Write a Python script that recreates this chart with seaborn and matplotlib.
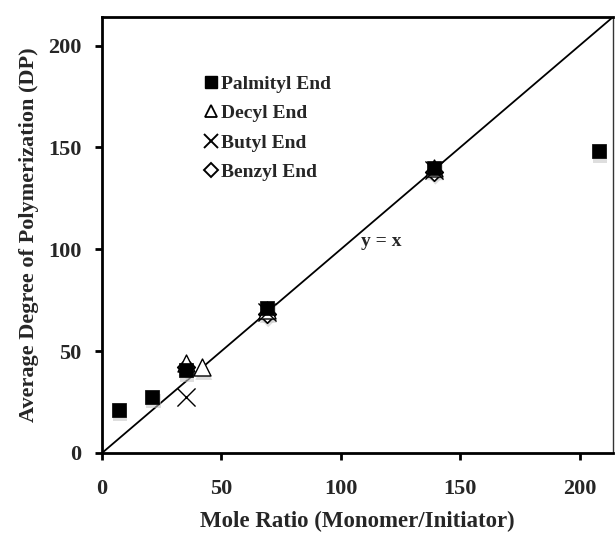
import matplotlib
matplotlib.use("Agg")
import matplotlib.pyplot as plt
import matplotlib.transforms as mtransforms
from matplotlib.lines import Line2D
import seaborn as sns
import pandas as pd
import numpy as np

# data
palmityl_x = [7, 21, 35, 69, 139, 208]
palmityl_y = [21, 27.5, 40.5, 71, 140, 148]
decyl_x = [35, 42, 69, 139]
decyl_y = [44, 42, 70, 140]
butyl_x = [35, 69, 139]
butyl_y = [27.5, 69, 139]
benzyl_x = [35, 69, 139]
benzyl_y = [42, 68, 138]

series = ["Palmityl End", "Decyl End", "Butyl End", "Benzyl End"]
xticks = [0, 50, 100, 150, 200]
yticks = [0, 50, 100, 150, 200]
axis_max = 214

sns.set_theme(style="white")
plt.rcParams['font.family'] = ['Liberation Serif', 'DejaVu Serif']
plt.rcParams['font.weight'] = 'bold'

fig = plt.figure(figsize=(6.15, 5.36), dpi=100)
ax = fig.add_axes([102/615, 83/536, 511/615, 436/536])

# y = x reference line
line_x = [0, axis_max]
ax.plot(line_x, line_x, color="black", lw=1.3, zorder=1)

def frame(xs, ys, name):
    return pd.DataFrame({"x": xs, "y": ys, "s": name})

df_benzyl = frame(benzyl_x, benzyl_y, series[3])
df_decyl = frame(decyl_x, decyl_y, series[1])
df_butyl = frame(butyl_x, butyl_y, series[2])
df_palm = frame(palmityl_x, palmityl_y, series[0])

shadow = mtransforms.offset_copy(ax.transData, fig=fig, x=1.5, y=-4, units='dots')

specs = [
    (df_benzyl, dict(marker="D", s=80, facecolor="white", edgecolor="black", linewidth=1.2)),
    (df_decyl, dict(marker="^", s=150, facecolor="white", edgecolor="black", linewidth=1.0)),
    (df_butyl, dict(marker="x", s=170, color="black", linewidth=1.0)),
    (df_palm, dict(marker="s", s=110, color="black", edgecolor="black", linewidth=0.5)),
]

for d, kw in specs:
    if d is not df_butyl:
        sns.scatterplot(data=d, x="x", y="y", ax=ax, color="#c4c4c4", edgecolor="none",
                        alpha=0.55, legend=False, zorder=2, marker=kw["marker"], s=kw["s"],
                        transform=shadow)
for i, (d, kw) in enumerate(specs):
    sns.scatterplot(data=d, x="x", y="y", ax=ax, legend=False, zorder=3 + i, **kw)

ax.set_xlim(0, axis_max)
ax.set_ylim(0, axis_max)
ax.set_xticks(xticks)
ax.set_yticks(yticks)
ax.set_xticklabels([str(t) for t in xticks], fontsize=16, fontweight="bold")
ax.set_yticklabels([str(t) for t in yticks], fontsize=16, fontweight="bold")
ax.tick_params(axis="both", direction="out", length=5, width=2, color="black",
               bottom=True, left=True)
ax.tick_params(axis="x", pad=14)
ax.tick_params(axis="y", pad=10)

ax.set_xlabel("Mole Ratio (Monomer/Initiator)", fontsize=16.5, fontweight="bold", labelpad=8)
ax.set_ylabel("Average Degree of Polymerization (DP)", fontsize=16, fontweight="bold", labelpad=6)

for side in ["left", "bottom", "top"]:
    ax.spines[side].set_linewidth(2)
    ax.spines[side].set_color("black")
ax.spines["right"].set_linewidth(1)
ax.spines["right"].set_color("#333333")

ax.text(117, 104, "y = x", fontsize=14, fontweight="bold", ha="center", va="center")

handles = [
    Line2D([], [], ls="none", marker="s", markersize=8.5, color="black"),
    Line2D([], [], ls="none", marker="^", markersize=8.5, markerfacecolor="white", markeredgecolor="black", markeredgewidth=1.3),
    Line2D([], [], ls="none", marker="x", markersize=9.5, color="black", markeredgewidth=1.4),
    Line2D([], [], ls="none", marker="D", markersize=7, markerfacecolor="white", markeredgecolor="black", markeredgewidth=1.4),
]
leg = ax.legend(handles, series, loc="upper left", bbox_to_anchor=(0.182, 0.884), frameon=False,
                handlelength=0.8, handletextpad=0.15, labelspacing=0.6, borderaxespad=0,
                prop={"family": "Liberation Serif", "weight": "bold", "size": 14})

fig.savefig("out.png", dpi=100, facecolor="white")
